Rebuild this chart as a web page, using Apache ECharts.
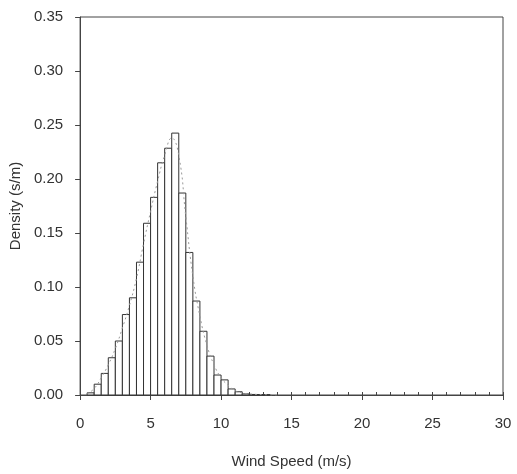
<!DOCTYPE html>
<html>
<head>
<meta charset="utf-8">
<script src="https://cdn.jsdelivr.net/npm/echarts@6/dist/echarts.min.js"></script>
<style>
html,body{margin:0;padding:0;background:#fff;}
#chart{width:517px;height:474px;}
</style>
</head>
<body>
<div id="chart"></div>
<script>
// Histogram bins (m/s): start of each 0.5 m/s bin
var binStarts = [0.5, 1.0, 1.5, 2.0, 2.5, 3.0, 3.5, 4.0, 4.5, 5.0, 5.5, 6.0, 6.5, 7.0, 7.5, 8.0, 8.5, 9.0, 9.5, 10.0, 10.5, 11.0, 11.5, 12.0, 12.5, 13.0];
var binWidth = 0.5;
// Observed density (s/m)
var density = [0.002, 0.010, 0.020, 0.0345, 0.050, 0.0745, 0.090, 0.123, 0.159, 0.183, 0.215, 0.2285, 0.2425, 0.187, 0.132, 0.087, 0.059, 0.036, 0.0185, 0.014, 0.0056, 0.003, 0.001, 0.0005, 0.0004, 0.0003];
// Fitted curve (dotted)
var fitX = [0.5, 1.0, 1.5, 2.0, 2.5, 3.0, 3.5, 4.0, 4.5, 5.0, 5.5, 6.0, 6.5, 7.0, 7.5, 8.0, 8.5, 9.0, 9.5, 10.0, 10.5, 11.0, 11.5, 12.0, 13.0, 14.0];
var fitY = [0.001, 0.006, 0.016, 0.028, 0.043, 0.062, 0.083, 0.108, 0.140, 0.170, 0.198, 0.222, 0.238, 0.222, 0.165, 0.110, 0.073, 0.046, 0.028, 0.016, 0.009, 0.004, 0.002, 0.001, 0.0003, 0.0];
var xTicks = [0, 5, 10, 15, 20, 25, 30];
var yTicks = [0.00, 0.05, 0.10, 0.15, 0.20, 0.25, 0.30, 0.35];

var histData = binStarts.map(function (s, i) { return [s, s + binWidth, density[i]]; });
var fitData = fitX.map(function (x, i) { return [x, fitY[i]]; });

var chart = echarts.init(document.getElementById('chart'), null, {renderer: 'canvas'});
var txt = '#333';
var lineCol = '#444';
var ff = 'Liberation Sans, Arial, sans-serif';
chart.setOption({
  animation: false,
  backgroundColor: '#fff',
  grid: {left: 79, right: 14, top: 17, bottom: 78, show: true, borderColor: lineCol, borderWidth: 1, backgroundColor: 'transparent'},
  xAxis: [{
    type: 'value', min: 0, max: 30, interval: 5,
    name: 'Wind Speed (m/s)', nameLocation: 'middle', nameGap: 59,
    nameTextStyle: {fontFamily: ff, fontSize: 15, color: txt},
    axisLine: {show: true, lineStyle: {color: lineCol}},
    axisTick: {show: true, inside: false, length: 5, lineStyle: {color: lineCol}},
    axisLabel: {margin: 21, fontFamily: ff, fontSize: 15, color: txt,
      formatter: function (v) { return xTicks.indexOf(v) >= 0 ? String(v) : ''; }},
    splitLine: {show: false}
  }, {
    type: 'value', min: 0, max: 30, interval: 1, position: 'bottom', gridIndex: 0,
    axisLine: {show: false},
    axisTick: {show: true, inside: true, length: 3, lineStyle: {color: lineCol}},
    axisLabel: {show: false},
    splitLine: {show: false}
  }],
  yAxis: {
    type: 'value', min: 0, max: 0.35, interval: 0.05,
    name: 'Density (s/m)', nameLocation: 'middle', nameGap: 56,
    nameTextStyle: {fontFamily: ff, fontSize: 15, color: txt},
    axisLine: {show: true, lineStyle: {color: lineCol}},
    axisTick: {show: true, inside: false, length: 5, lineStyle: {color: lineCol}},
    axisLabel: {margin: 17, fontFamily: ff, fontSize: 15, color: txt,
      formatter: function (v) { return v.toFixed(2); }},
    splitLine: {show: false}
  },
  series: [{
    type: 'custom',
    xAxisIndex: 0,
    data: histData,
    encode: {x: [0, 1], y: 2},
    renderItem: function (params, api) {
      var p0 = api.coord([api.value(0), 0]);
      var p1 = api.coord([api.value(1), api.value(2)]);
      return {
        type: 'rect',
        shape: {x: p0[0], y: p1[1], width: p1[0] - p0[0], height: p0[1] - p1[1]},
        style: {fill: '#fff', stroke: '#333', lineWidth: 1}
      };
    },
    z: 2
  }, {
    type: 'line',
    xAxisIndex: 0,
    data: fitData,
    showSymbol: false,
    smooth: true,
    lineStyle: {color: '#999', width: 1, type: [2, 3]},
    z: 3
  }]
});
</script>
</body>
</html>
